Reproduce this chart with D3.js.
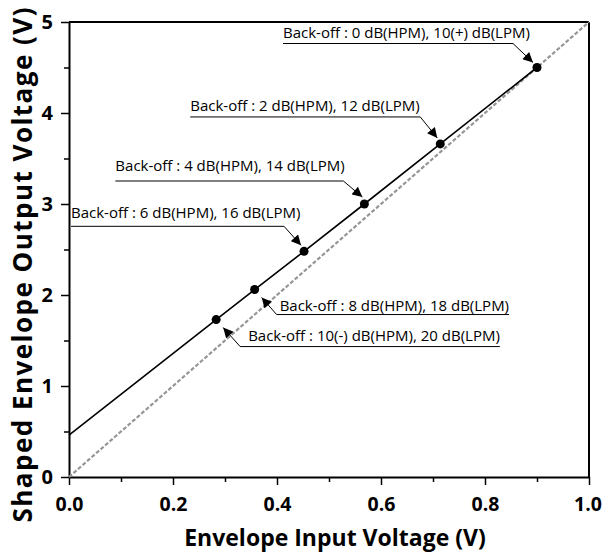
<!DOCTYPE html>
<html>
<head>
<meta charset="utf-8">
<script src="https://cdn.jsdelivr.net/npm/d3@7"></script>
<style>
  body { margin: 0; background: #fff; }
  svg text { font-family: "Open Sans", "Noto Sans", sans-serif; }
</style>
</head>
<body>
<div id="chart"></div>
<script>
// Data
const inputV   = [0.283, 0.357, 0.452, 0.568, 0.714, 0.900];
const outputV  = [1.73, 2.06, 2.48, 3.00, 3.66, 4.50];
const lineStart = [0, 0.46];          // solid line start (x, y)
const refLine   = [[0, 0], [1, 5]];   // dashed y = 5x reference
const labels = [
  "Back-off : 10(-) dB(HPM), 20 dB(LPM)",
  "Back-off : 8 dB(HPM), 18 dB(LPM)",
  "Back-off : 6 dB(HPM), 16 dB(LPM)",
  "Back-off : 4 dB(HPM), 14 dB(LPM)",
  "Back-off : 2 dB(HPM), 12 dB(LPM)",
  "Back-off : 0 dB(HPM), 10(+) dB(LPM)"
];
const xTicks = [0, 0.2, 0.4, 0.6, 0.8, 1.0];
const yTicks = [0, 1, 2, 3, 4, 5];

// annotation layout (pixel offsets from each dot): tip, bend, text x, baseline
const annLayout = [
  {side: "right", tip: [7, 8],   bend: [24, 27],   tx: 32,   ty: 21},
  {side: "right", tip: [7, 8],   bend: [22, 25],   tx: 25,   ty: 21},
  {side: "left",  tip: [-3, -6], bend: [-20, -25], tx: -233, ty: -33},
  {side: "left",  tip: [-2, -7], bend: [-21, -23], tx: -249, ty: -33},
  {side: "left",  tip: [-3, -6], bend: [-20, -27], tx: -250, ty: -33},
  {side: "left",  tip: [-4, -5], bend: [-24, -24], tx: -254, ty: -29.5}
];

const width = 602, height = 558;
const margin = {top: 22, right: 13, bottom: 81, left: 69};
const iw = width - margin.left - margin.right;
const ih = height - margin.top - margin.bottom;

const svg = d3.select("#chart").append("svg")
  .attr("width", width).attr("height", height);

svg.append("defs").append("marker")
  .attr("id", "arrow")
  .attr("viewBox", "0 0 10 10")
  .attr("refX", 10).attr("refY", 5)
  .attr("markerWidth", 11).attr("markerHeight", 10)
  .attr("markerUnits", "userSpaceOnUse")
  .attr("orient", "auto")
  .append("path").attr("d", "M0,0 L10,5 L0,10 Z").attr("fill", "#000");

const g = svg.append("g").attr("transform", `translate(${margin.left},${margin.top})`);

const x = d3.scaleLinear().domain([0, 1]).range([0, iw]);
const y = d3.scaleLinear().domain([0, 5]).range([ih, 0]);

// axes with minor ticks
const xMinor = d3.range(0.1, 1.0, 0.2);
const yMinor = d3.range(0.5, 5, 1);

g.append("g").attr("transform", `translate(0,${ih})`)
  .call(d3.axisBottom(x).tickValues(xMinor).tickSize(5).tickFormat(""))
  .call(a => a.select(".domain").remove());
g.append("g").attr("transform", `translate(0,${ih})`)
  .call(d3.axisBottom(x).tickValues(xTicks).tickSize(8).tickSizeOuter(0).tickPadding(12)
    .tickFormat(d3.format(".1f")))
  .call(a => a.selectAll("text").attr("font-size", 19.5).attr("font-weight", "bold").attr("fill", "#000"))
  .call(a => a.selectAll(".tick").filter(d => d === 1).select("text").attr("dx", -1.5));

g.append("g")
  .call(d3.axisLeft(y).tickValues(yMinor).tickSize(5).tickFormat(""))
  .call(a => a.select(".domain").remove());
g.append("g")
  .call(d3.axisLeft(y).tickValues(yTicks).tickSize(8).tickSizeOuter(0).tickPadding(8)
    .tickFormat(d3.format("d")))
  .call(a => a.selectAll("text").attr("font-size", 20).attr("font-weight", "bold").attr("fill", "#000"));

g.selectAll(".domain").attr("stroke-width", 2);
g.selectAll(".tick line").attr("stroke-width", 1.5);

// frame top / right
g.append("line").attr("x1", 0).attr("x2", iw).attr("y1", 0).attr("y2", 0)
  .attr("stroke", "#000").attr("stroke-width", 2);
g.append("line").attr("x1", iw).attr("x2", iw).attr("y1", 0).attr("y2", ih)
  .attr("stroke", "#000").attr("stroke-width", 2);

// dashed reference line
g.append("path")
  .datum(refLine)
  .attr("d", d3.line().x(d => x(d[0])).y(d => y(d[1])))
  .attr("fill", "none").attr("stroke", "#969696").attr("stroke-width", 2.2)
  .attr("stroke-dasharray", "4,2");

// solid shaped line
const pts = [lineStart].concat(inputV.map((v, i) => [v, outputV[i]]));
g.append("path")
  .datum(pts)
  .attr("d", d3.line().x(d => x(d[0])).y(d => y(d[1])))
  .attr("fill", "none").attr("stroke", "#000").attr("stroke-width", 1.6);

// dots
g.selectAll("circle.pt").data(inputV).join("circle")
  .attr("class", "pt")
  .attr("cx", d => x(d)).attr("cy", (d, i) => y(outputV[i]))
  .attr("r", 4.5).attr("fill", "#000");

// annotations
labels.forEach((lab, i) => {
  const px = x(inputV[i]), py = y(outputV[i]);
  const L = annLayout[i];
  const t = g.append("text")
    .attr("x", px + L.tx).attr("y", py + L.ty)
    .attr("font-size", 15).attr("fill", "#000")
    .text(lab);
  const tw = t.node().getComputedTextLength();
  const bx = px + L.bend[0], by = py + L.bend[1];
  const ux = L.side === "left" ? px + L.tx : px + L.tx + tw;
  g.append("line").attr("x1", ux).attr("x2", bx).attr("y1", by).attr("y2", by)
    .attr("stroke", "#000").attr("stroke-width", 1);
  g.append("line").attr("x1", bx).attr("y1", by)
    .attr("x2", px + L.tip[0]).attr("y2", py + L.tip[1])
    .attr("stroke", "#000").attr("stroke-width", 1)
    .attr("marker-end", "url(#arrow)");
});

// axis titles
svg.append("text")
  .attr("x", 335).attr("y", 546)
  .attr("text-anchor", "middle").attr("font-size", 23).attr("font-weight", "bold")
  .text("Envelope Input Voltage (V)");
svg.append("text")
  .attr("transform", `translate(32,${265}) rotate(-90)`)
  .attr("text-anchor", "middle").attr("font-size", 26).attr("font-weight", "bold")
  .attr("textLength", 515).attr("lengthAdjust", "spacing")
  .text("Shaped Envelope Output Voltage (V)");
</script>
</body>
</html>
